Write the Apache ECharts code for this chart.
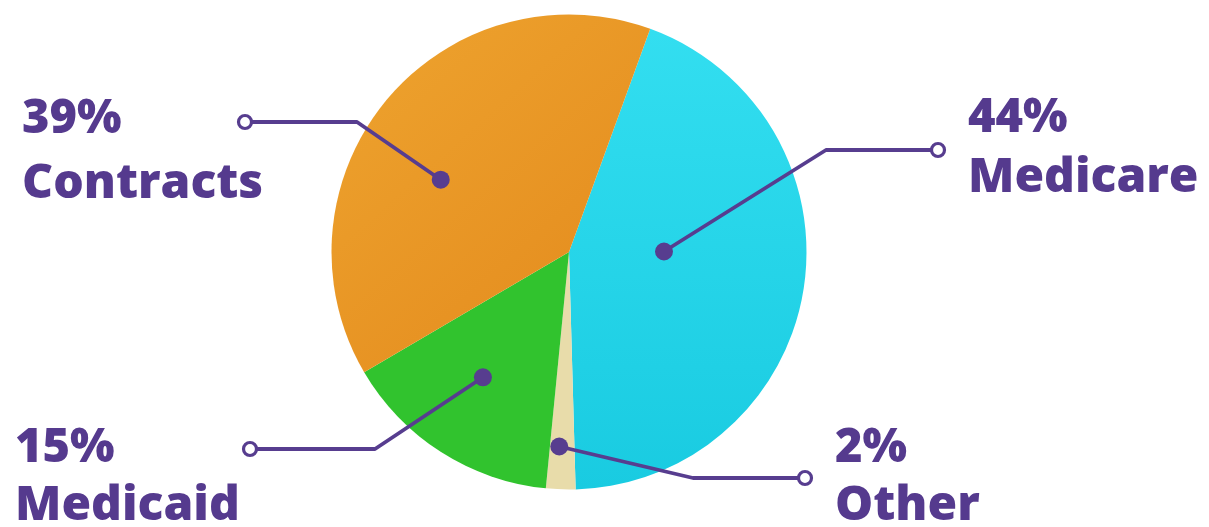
<!DOCTYPE html>
<html>
<head>
<meta charset="utf-8">
<script src="https://cdn.jsdelivr.net/npm/echarts@6/dist/echarts.min.js"></script>
<style>
  html, body { margin: 0; padding: 0; background: #ffffff; }
  #chart { width: 1209px; height: 527px; }
</style>
</head>
<body>
<div id="chart"></div>
<script>
// ---- data ----
const categories = ['Medicare', 'Other', 'Medicaid', 'Contracts'];
const shares = [44, 2, 15, 39];

// ---- layout / style (not data) ----
const CX = 569, CY = 252, R = 237.5, START = 70;
const TEXT_COLOR = '#553a8e';
const LINE_COLOR = '#573d8f';
const colors = [
  new echarts.graphic.LinearGradient(0, 0, 0, 1, [{offset: 0, color: '#33def0'}, {offset: 1, color: '#19cbe1'}]),
  '#e8dcaa',
  '#31c32e',
  new echarts.graphic.LinearGradient(0, 0, 1, 1, [{offset: 0, color: '#eea42f'}, {offset: 1, color: '#e3891c'}])
];
// per-slice annotation layout: dot position inside slice (fraction along slice, fraction of radius),
// elbow / open-circle anchors and text placement
const annot = [
  { along: 0.44, rf: 0.40, elbow: [826, 150], end: [938, 150], tx: 968, pctBase: 132, nameBase: 192 },
  { along: 0.62, rf: 0.82, elbow: [693, 478], end: [805, 478], tx: 835, pctBase: 462, nameBase: 520 },
  { along: 0.535, rf: 0.64, elbow: [375, 449], end: [250, 449], tx: 15, pctBase: 462, nameBase: 520 },
  { along: 0.426, rf: 0.62, elbow: [357, 122], end: [245, 122], tx: 22, pctBase: 133, nameBase: 198 }
];

function layoutAngle(start, span, f) { return start - span * f; }

const total = shares.reduce((a, b) => a + b, 0);
const graphics = [];
let angle = START;
shares.forEach((v, i) => {
  const span = v / total * 360;
  const a = layoutAngle(angle, span, annot[i].along);
  angle -= span;
  const rad = a * Math.PI / 180;
  const dot = [CX + Math.cos(rad) * R * annot[i].rf, CY - Math.sin(rad) * R * annot[i].rf];
  const an = annot[i];
  graphics.push({
    type: 'polyline', z: 10,
    shape: { points: [dot, an.elbow, an.end] },
    style: { stroke: LINE_COLOR, lineWidth: 3.8, fill: null, lineJoin: 'round' }
  });
  graphics.push({
    type: 'circle', z: 11,
    shape: { cx: dot[0], cy: dot[1], r: 9 },
    style: { fill: LINE_COLOR }
  });
  graphics.push({
    type: 'circle', z: 11,
    shape: { cx: an.end[0], cy: an.end[1], r: 6.5 },
    style: { fill: '#ffffff', stroke: LINE_COLOR, lineWidth: 3.2 }
  });
  graphics.push({
    type: 'text', z: 12, x: an.tx, y: an.pctBase - 13,
    style: { text: v + '%', font: '800 47px "Open Sans"', fill: TEXT_COLOR, align: 'left', verticalAlign: 'middle' }
  });
  graphics.push({
    type: 'text', z: 12, x: an.tx, y: an.nameBase - 14,
    style: { text: categories[i], font: '800 48px "Open Sans"', fill: TEXT_COLOR, align: 'left', verticalAlign: 'middle' }
  });
});

const chart = echarts.init(document.getElementById('chart'), null, { renderer: 'canvas' });
chart.setOption({
  backgroundColor: '#ffffff',
  animation: false,
  series: [{
    type: 'pie',
    center: [CX, CY],
    radius: [0, R],
    startAngle: START,
    clockwise: true,
    label: { show: false },
    labelLine: { show: false },
    emphasis: { disabled: true },
    itemStyle: { borderWidth: 0 },
    data: categories.map((c, i) => ({ name: c, value: shares[i], itemStyle: { color: colors[i] } }))
  }],
  graphic: graphics
});
</script>
</body>
</html>
